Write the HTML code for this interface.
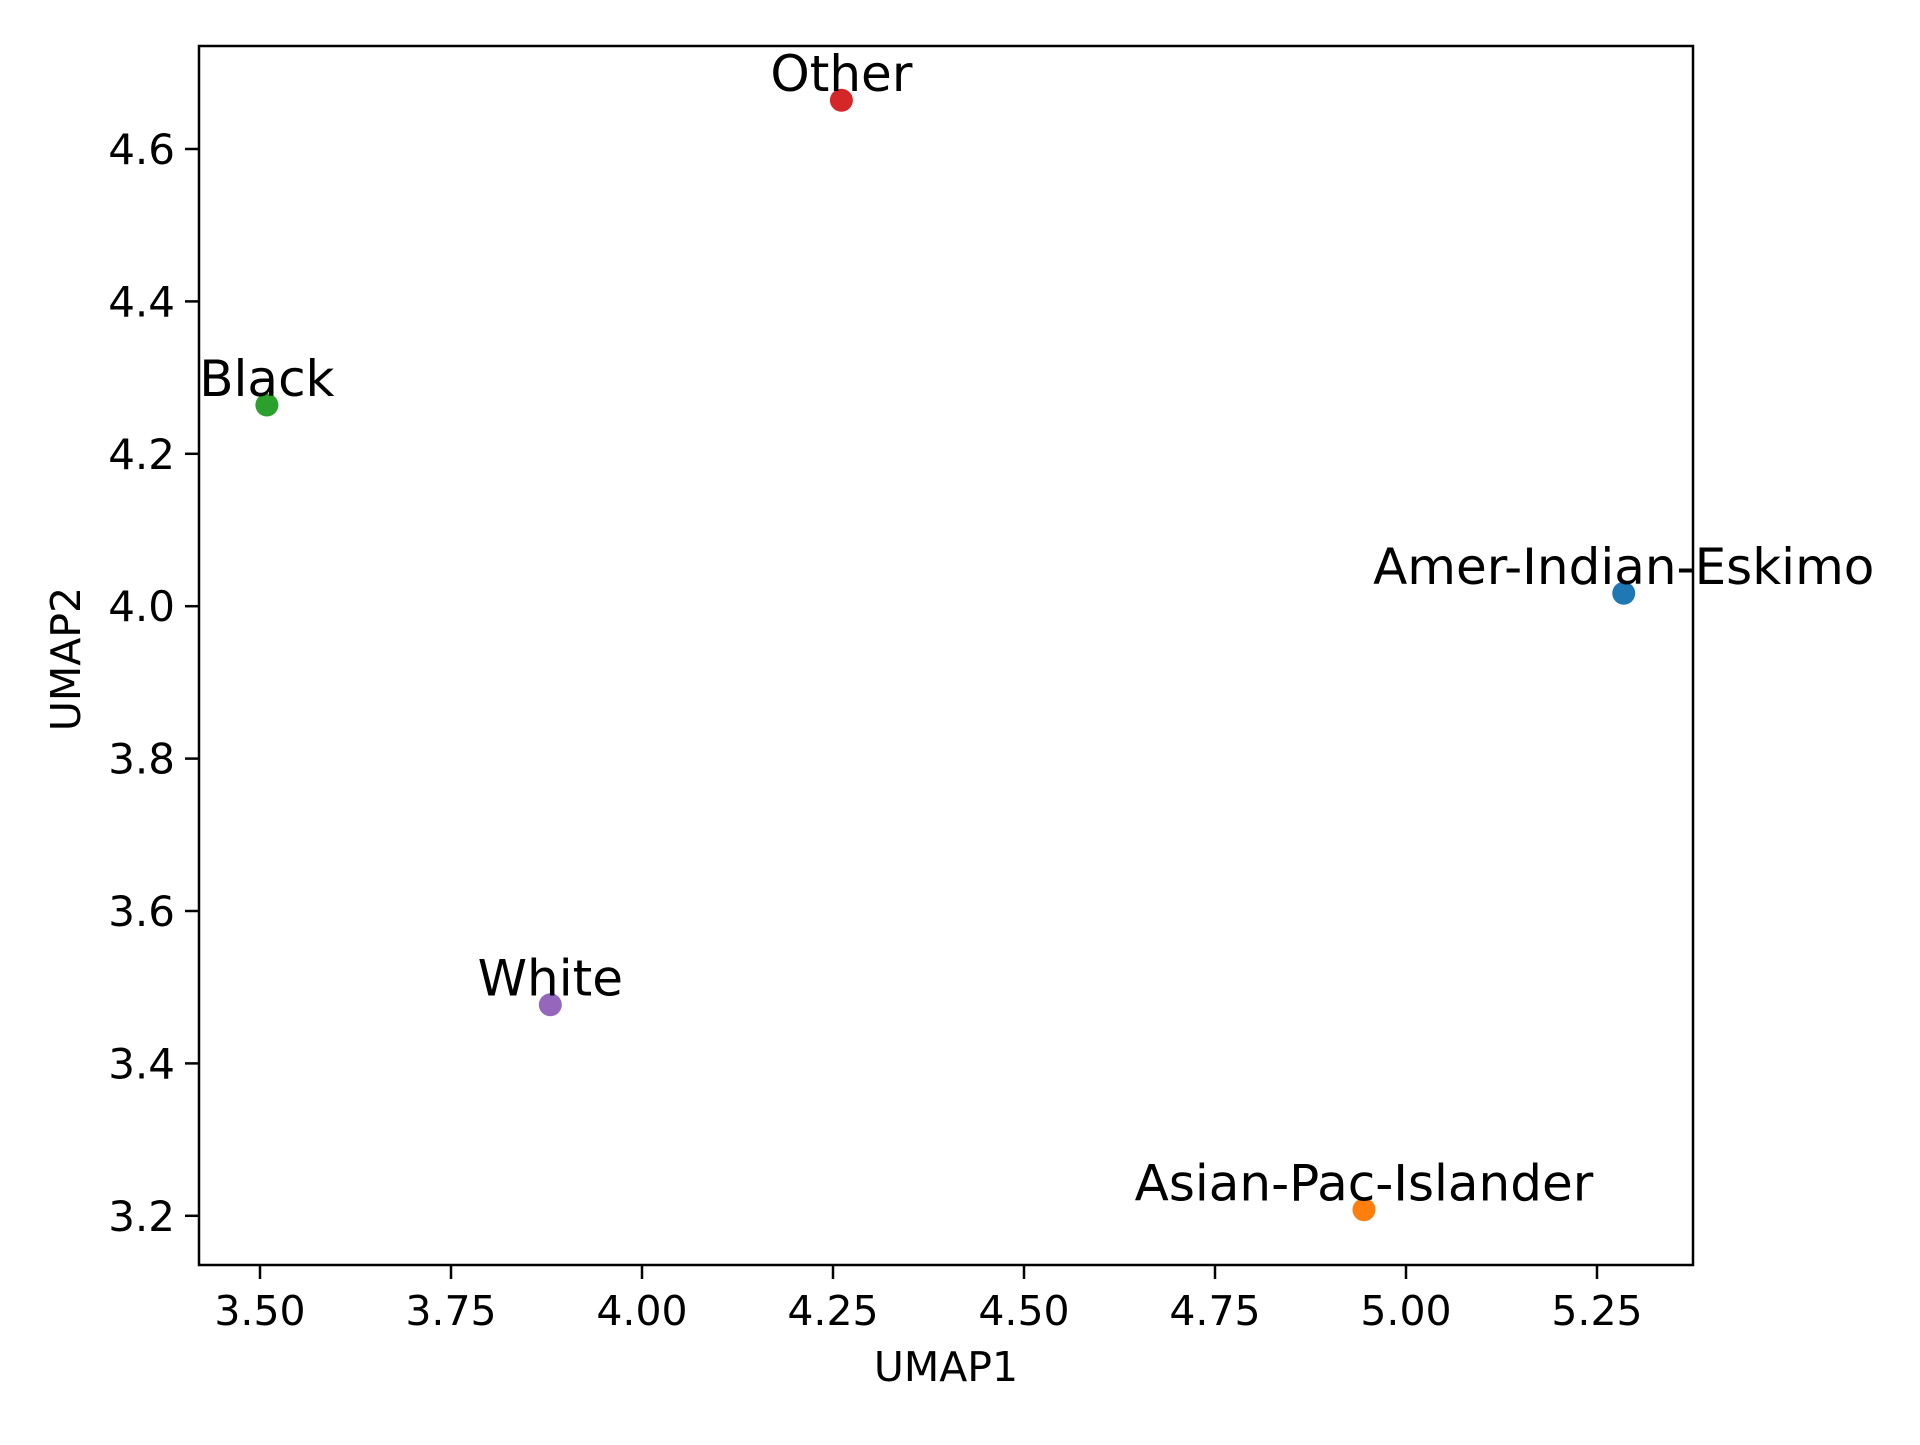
<!DOCTYPE html>
<html><head><meta charset="utf-8"><style>
body{margin:0;background:#fff}
svg text{font-family:"DejaVu Sans","Liberation Sans",sans-serif;fill:#000}
</style></head><body>
<svg id="chart" width="1920" height="1440" xmlns="http://www.w3.org/2000/svg"></svg>
<script>
const labels=["Amer-Indian-Eskimo","Asian-Pac-Islander","Black","Other","White"];
const xs=[5.285,4.945,3.509,4.261,3.880];
const ys=[4.017,3.208,4.264,4.664,3.477];
const colors=["#1f77b4","#ff7f0e","#2ca02c","#d62728","#9467bd"];
const xTicks=[3.50,3.75,4.00,4.25,4.50,4.75,5.00,5.25];
const yTicks=[3.2,3.4,3.6,3.8,4.0,4.2,4.4,4.6];
const L=199,R=1693,T=46,B=1265;
const sx=v=>260+(v-3.5)*764;
const sy=v=>149-(v-4.6)*762;
const NS="http://www.w3.org/2000/svg";
const svg=document.getElementById('chart');
function mk(t,a){const e=document.createElementNS(NS,t);for(const k in a)e.setAttribute(k,a[k]);svg.appendChild(e);return e;}
xTicks.forEach(v=>{
  const x=sx(v);
  const t=mk('line',{x1:x,x2:x,y1:B,y2:B+14,stroke:'#000','stroke-width':2.5});
  
  
  const l=mk('text',{x:x,y:B+60,'font-size':41,'text-anchor':'middle'});
  l.textContent=v.toFixed(2);
  
  
});
yTicks.forEach(v=>{
  const y=sy(v);
  const t=mk('line',{x1:L-14,x2:L,y1:y,y2:y,stroke:'#000','stroke-width':2.5});
  
  
  const l=mk('text',{x:L-24,y:y+15,'font-size':42,'text-anchor':'end'});
  l.textContent=v.toFixed(1);
  
  
});
labels.forEach((n,i)=>{
  const c=mk('circle',{cx:sx(xs[i]),cy:sy(ys[i]),r:11.5,fill:colors[i]});
  
  
  const t=mk('text',{x:sx(xs[i]),y:sy(ys[i])-9,'font-size':50,'text-anchor':'middle'});
  t.textContent=n;
  
  
});
const f=mk('rect',{x:L,y:T,width:R-L,height:B-T,fill:'none',stroke:'#000','stroke-width':2.5});


const xl=mk('text',{x:(L+R)/2,y:1381,'font-size':41,'text-anchor':'middle'});
xl.textContent='UMAP1';


const yl=mk('text',{x:0,y:0,'font-size':41,'text-anchor':'middle',transform:'translate(80,659) rotate(-90)'});
yl.textContent='UMAP2';


</script>
</body></html>
